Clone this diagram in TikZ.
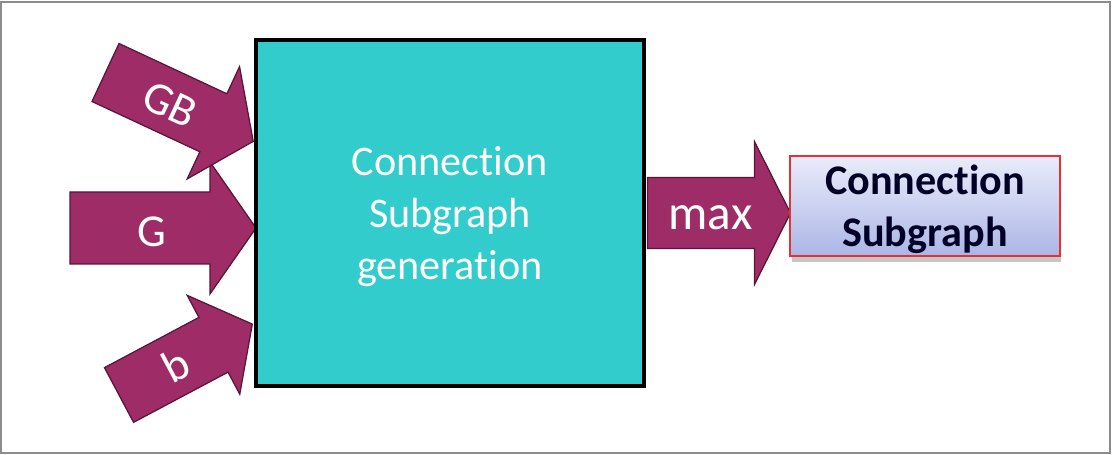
\documentclass[tikz,border=0pt]{standalone}
\usepackage{fontspec}
\setmainfont{Carlito}[Ligatures=NoCommon]
\usepackage{xcolor}
\usepackage{tikz}
\usetikzlibrary{positioning,shadows}
\definecolor{plum}{RGB}{158,44,102}
\definecolor{plumdark}{RGB}{90,20,55}
\definecolor{genfill}{RGB}{51,204,204}
\definecolor{restop}{RGB}{234,236,250}
\definecolor{resbot}{RGB}{172,182,230}
\definecolor{resred}{RGB}{228,50,50}

\begin{document}
\begin{tikzpicture}[x=0.02cm,y=0.02cm,
  blockarrow/.style={fill=plum,draw=plumdark,line width=0.7pt,line join=miter},
  arrowlabel/.style={text=white,inner sep=0pt,font=\fontsize{26}{31}\selectfont}]
\useasboundingbox (0,0) rectangle (1112,455);
% outer frame
\draw[black!45,line width=0.6pt] (1,2) rectangle (1110,453);
% input arrows
\begin{scope}[shift={(70,227)}]
\draw[blockarrow] (0,-36) -- (140,-36) -- (140,-66) -- (186,0) -- (140,66) -- (140,36) -- (0,36) -- cycle;
\node[arrowlabel] (g) at (82,-4) {G};
\end{scope}
\begin{scope}[shift={(105.5,382.5)},rotate=-25]
\draw[blockarrow] (0,-32) -- (119,-32) -- (119,-62) -- (163,0) -- (119,62) -- (119,32) -- (0,32) -- cycle;
\node[arrowlabel,rotate=-25] (gb) at (72,-2) {GB};
\end{scope}
\begin{scope}[shift={(119,60)},rotate=28]
\draw[blockarrow] (0,-31) -- (107,-31) -- (107,-56) -- (151,0) -- (107,56) -- (107,31) -- (0,31) -- cycle;
\node[arrowlabel,rotate=28] (b) at (64,0) {b};
\end{scope}
% generation box
\node[draw=black,line width=2pt,fill=genfill,minimum width=7.76cm,minimum height=6.92cm,
  text=white,align=center,text depth=0pt,font=\fontsize{24}{29.6}\selectfont] (gen) at (450,242)
  {Connection\\Subgraph\\generation};
% output arrow
\begin{scope}[shift={([xshift=1pt]gen.east)}]
\draw[blockarrow] (0,-35.5) -- (107,-35.5) -- (107,-71.5) -- (143,0) -- (107,71.5) -- (107,35.5) -- (0,35.5) -- cycle;
\coordinate (maxtip) at (143,0);
\node[arrowlabel,font=\fontsize{28}{33}\selectfont] (max) at (63,-5) {max};
\end{scope}
% result box
\node[draw=resred,line width=0.8pt,top color=restop,bottom color=resbot,
  drop shadow={shadow xshift=0.03cm,shadow yshift=-0.12cm,opacity=0.45},
  minimum width=5.4cm,minimum height=2cm,inner sep=0pt,align=center,text depth=0pt,
  text=black!85!blue,font=\bfseries\fontsize{24}{29.6}\selectfont] (res) at (925,249)
  {Connection\\Subgraph};
\end{tikzpicture}
\end{document}
